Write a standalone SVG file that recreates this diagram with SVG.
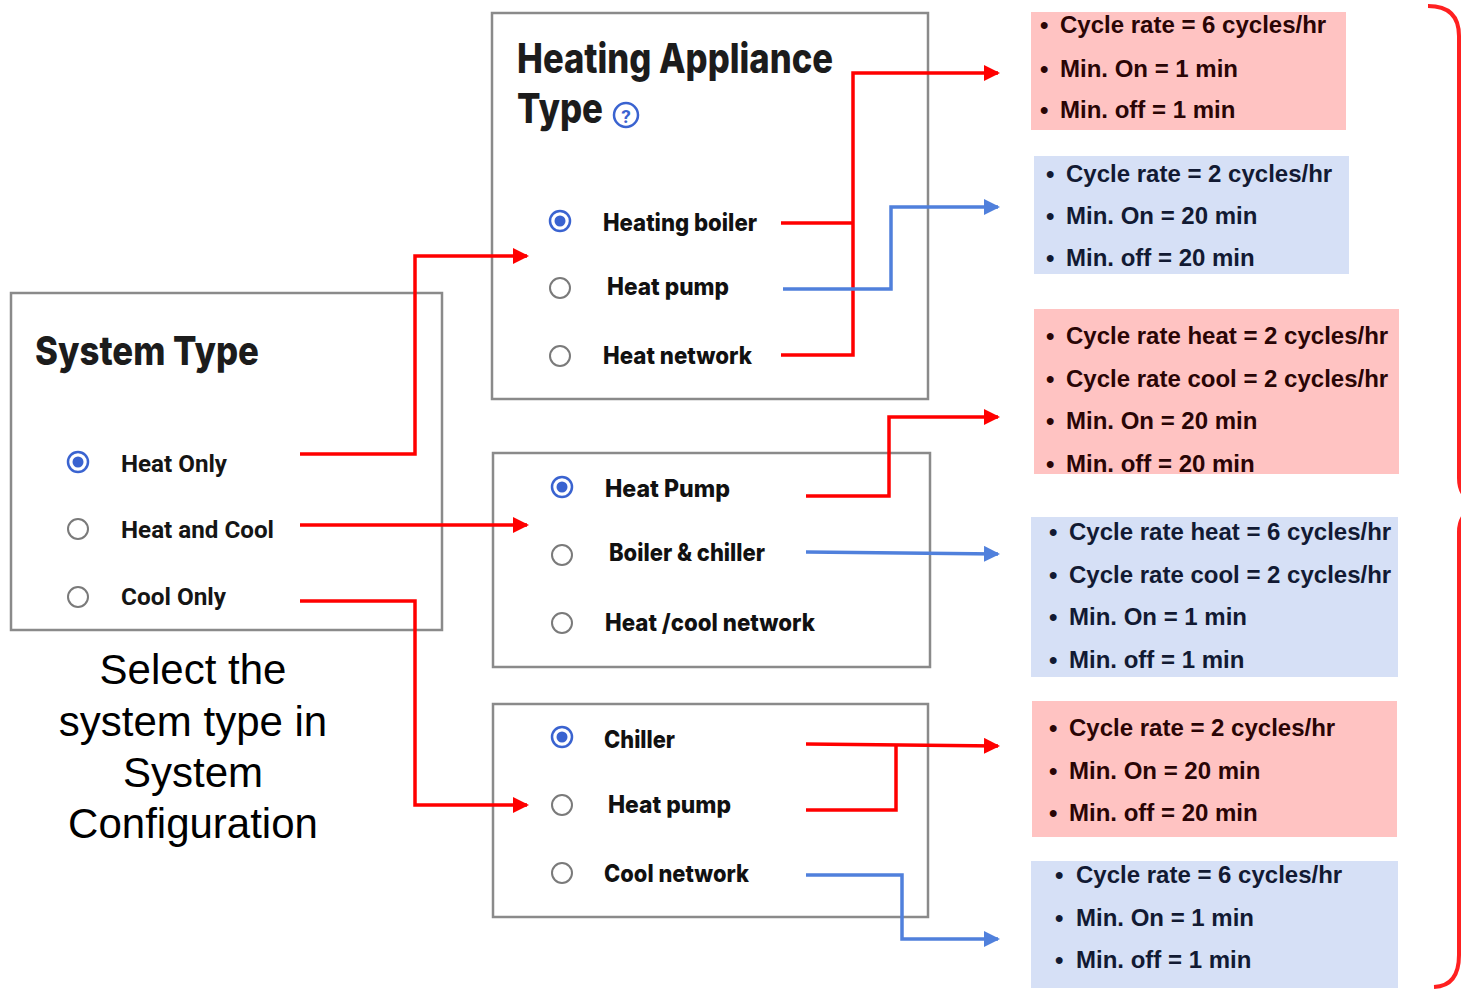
<svg xmlns="http://www.w3.org/2000/svg" width="1461" height="989" viewBox="0 0 1461 989">
<style>
.box{fill:#fff;stroke:#8a8a8a;stroke-width:2.5}
.h{font-family:Inter,Roboto,"Liberation Sans",sans-serif;font-weight:800;fill:#1c1c1c}
.lbl{font-family:Inter,Roboto,"Liberation Sans",sans-serif;font-weight:800;font-size:24px;fill:#111}
.slbl{font-family:Roboto,"Liberation Sans",sans-serif;font-weight:700;font-size:23px;fill:#151515}
.off{fill:#fff;stroke:#7a7a7a;stroke-width:2}
.on{fill:#fff;stroke:#3a63d0;stroke-width:2.5}
.dot{fill:#3a63d0}
.red{fill:none;stroke:#ff0000;stroke-width:3.5}
.blue{fill:none;stroke:#5080dc;stroke-width:3.5}
.pink{fill:#ffc3c2}
.lblue{fill:#d6e0f6}
.pt{font-family:"Liberation Sans",Arial,sans-serif;font-weight:700;font-size:24px;fill:#2a0505}
.bt{font-family:"Liberation Sans",Arial,sans-serif;font-weight:700;font-size:24px;fill:#121a33}
.b{font-size:24px}
.cap{font-family:"Liberation Sans",Arial,sans-serif;font-size:42px;fill:#000}
</style>
<defs>
<marker id="ar" markerUnits="userSpaceOnUse" markerWidth="18" markerHeight="16" refX="14" refY="8" orient="auto"><path d="M0,0 L16,8 L0,16 z" fill="#ff0000"/></marker>
<marker id="ab" markerUnits="userSpaceOnUse" markerWidth="18" markerHeight="16" refX="14" refY="8" orient="auto"><path d="M0,0 L16,8 L0,16 z" fill="#5080dc"/></marker>
</defs>
<rect width="1461" height="989" fill="#fff"/>

<g id="system-type">
<rect class="box" x="11" y="293" width="431" height="337"/>
<text class="h" x="35" y="365" font-size="40" textLength="224" lengthAdjust="spacingAndGlyphs">System Type</text>
<circle class="on" cx="78" cy="462" r="10"/><circle class="dot" cx="78" cy="462" r="5.5"/>
<text class="slbl" x="121" y="472" textLength="106" lengthAdjust="spacingAndGlyphs">Heat Only</text>
<circle class="off" cx="78" cy="529" r="10"/>
<text class="slbl" x="121" y="538" textLength="153" lengthAdjust="spacingAndGlyphs">Heat and Cool</text>
<circle class="off" cx="78" cy="597" r="10"/>
<text class="slbl" x="121" y="605" textLength="105" lengthAdjust="spacingAndGlyphs">Cool Only</text>
</g>

<g id="caption">
<text class="cap" text-anchor="middle" x="193" y="684">Select the</text>
<text class="cap" text-anchor="middle" x="193" y="736">system type in</text>
<text class="cap" text-anchor="middle" x="193" y="787">System</text>
<text class="cap" text-anchor="middle" x="193" y="838">Configuration</text>
</g>

<g id="heating-appliance">
<rect class="box" x="492" y="13" width="436" height="386"/>
<text class="h" x="517" y="73" font-size="41" textLength="316" lengthAdjust="spacingAndGlyphs">Heating Appliance</text>
<text class="h" x="517" y="123" font-size="41" textLength="86" lengthAdjust="spacingAndGlyphs">Type</text>
<circle cx="626" cy="115" r="12" fill="none" stroke="#3a63d0" stroke-width="2.5"/>
<text x="626" y="123" text-anchor="middle" font-family="Roboto,'Liberation Sans',sans-serif" font-size="19" font-weight="700" fill="#3a63d0">?</text>
<circle class="on" cx="560" cy="221" r="10"/><circle class="dot" cx="560" cy="221" r="5.5"/>
<text class="lbl" x="603" y="231" textLength="154" lengthAdjust="spacingAndGlyphs">Heating boiler</text>
<circle class="off" cx="560" cy="288" r="10"/>
<text class="lbl" x="607" y="295" textLength="122" lengthAdjust="spacingAndGlyphs">Heat pump</text>
<circle class="off" cx="560" cy="356" r="10"/>
<text class="lbl" x="603" y="364" textLength="149" lengthAdjust="spacingAndGlyphs">Heat network</text>
</g>

<g id="heat-and-cool">
<rect class="box" x="493" y="453" width="437" height="214"/>
<circle class="on" cx="562" cy="487" r="10"/><circle class="dot" cx="562" cy="487" r="5.5"/>
<text class="lbl" x="605" y="497" textLength="125" lengthAdjust="spacingAndGlyphs">Heat Pump</text>
<circle class="off" cx="562" cy="555" r="10"/>
<text class="lbl" x="609" y="561" textLength="156" lengthAdjust="spacingAndGlyphs">Boiler &amp; chiller</text>
<circle class="off" cx="562" cy="623" r="10"/>
<text class="lbl" x="605" y="631" textLength="210" lengthAdjust="spacingAndGlyphs">Heat /cool network</text>
</g>

<g id="cool-only">
<rect class="box" x="493" y="704" width="435" height="213"/>
<circle class="on" cx="562" cy="737" r="10"/><circle class="dot" cx="562" cy="737" r="5.5"/>
<text class="lbl" x="604" y="748" textLength="71" lengthAdjust="spacingAndGlyphs">Chiller</text>
<circle class="off" cx="562" cy="805" r="10"/>
<text class="lbl" x="608" y="813" textLength="123" lengthAdjust="spacingAndGlyphs">Heat pump</text>
<circle class="off" cx="562" cy="873" r="10"/>
<text class="lbl" x="604" y="882" textLength="145" lengthAdjust="spacingAndGlyphs">Cool network</text>
</g>

<g id="param-1">
<rect class="pink" x="1031" y="12" width="315" height="118"/>
<text class="pt"><tspan class="b" x="1040" y="33">•</tspan><tspan x="1060" y="33">Cycle rate = 6 cycles/hr</tspan></text>
<text class="pt"><tspan class="b" x="1040" y="77">•</tspan><tspan x="1060" y="77">Min. On = 1 min</tspan></text>
<text class="pt"><tspan class="b" x="1040" y="118">•</tspan><tspan x="1060" y="118">Min. off = 1 min</tspan></text>
</g>
<g id="param-2">
<rect class="lblue" x="1034" y="156" width="315" height="118"/>
<text class="bt"><tspan class="b" x="1046" y="182">•</tspan><tspan x="1066" y="182">Cycle rate = 2 cycles/hr</tspan></text>
<text class="bt"><tspan class="b" x="1046" y="224">•</tspan><tspan x="1066" y="224">Min. On = 20 min</tspan></text>
<text class="bt"><tspan class="b" x="1046" y="266">•</tspan><tspan x="1066" y="266">Min. off = 20 min</tspan></text>
</g>
<g id="param-3">
<rect class="pink" x="1034" y="309" width="365" height="165"/>
<text class="pt"><tspan class="b" x="1046" y="344">•</tspan><tspan x="1066" y="344">Cycle rate heat = 2 cycles/hr</tspan></text>
<text class="pt"><tspan class="b" x="1046" y="387">•</tspan><tspan x="1066" y="387">Cycle rate cool = 2 cycles/hr</tspan></text>
<text class="pt"><tspan class="b" x="1046" y="429">•</tspan><tspan x="1066" y="429">Min. On = 20 min</tspan></text>
<text class="pt"><tspan class="b" x="1046" y="472">•</tspan><tspan x="1066" y="472">Min. off = 20 min</tspan></text>
</g>
<g id="param-4">
<rect class="lblue" x="1031" y="517" width="367" height="160"/>
<text class="bt"><tspan class="b" x="1049" y="540">•</tspan><tspan x="1069" y="540">Cycle rate heat = 6 cycles/hr</tspan></text>
<text class="bt"><tspan class="b" x="1049" y="583">•</tspan><tspan x="1069" y="583">Cycle rate cool = 2 cycles/hr</tspan></text>
<text class="bt"><tspan class="b" x="1049" y="625">•</tspan><tspan x="1069" y="625">Min. On = 1 min</tspan></text>
<text class="bt"><tspan class="b" x="1049" y="668">•</tspan><tspan x="1069" y="668">Min. off = 1 min</tspan></text>
</g>
<g id="param-5">
<rect class="pink" x="1032" y="701" width="365" height="136"/>
<text class="pt"><tspan class="b" x="1049" y="736">•</tspan><tspan x="1069" y="736">Cycle rate = 2 cycles/hr</tspan></text>
<text class="pt"><tspan class="b" x="1049" y="779">•</tspan><tspan x="1069" y="779">Min. On = 20 min</tspan></text>
<text class="pt"><tspan class="b" x="1049" y="821">•</tspan><tspan x="1069" y="821">Min. off = 20 min</tspan></text>
</g>
<g id="param-6">
<rect class="lblue" x="1031" y="861" width="367" height="127"/>
<text class="bt"><tspan class="b" x="1055" y="883">•</tspan><tspan x="1076" y="883">Cycle rate = 6 cycles/hr</tspan></text>
<text class="bt"><tspan class="b" x="1055" y="926">•</tspan><tspan x="1076" y="926">Min. On = 1 min</tspan></text>
<text class="bt"><tspan class="b" x="1055" y="968">•</tspan><tspan x="1076" y="968">Min. off = 1 min</tspan></text>
</g>

<g id="connectors">
<polyline class="red" points="300,454 415,454 415,256 527,256" marker-end="url(#ar)"/>
<polyline class="red" points="300,525 527,525" marker-end="url(#ar)"/>
<polyline class="red" points="300,601 415,601 415,805 527,805" marker-end="url(#ar)"/>
<polyline class="red" points="781,223 853,223"/>
<polyline class="red" points="781,355 853,355 853,73 998,73" marker-end="url(#ar)"/>
<polyline class="blue" points="783,289 891,289 891,207 998,207" marker-end="url(#ab)"/>
<polyline class="red" points="806,496 889,496 889,417 998,417" marker-end="url(#ar)"/>
<polyline class="blue" points="806,552 998,554" marker-end="url(#ab)"/>
<polyline class="red" points="806,744 998,746" marker-end="url(#ar)"/>
<polyline class="red" points="806,810 896,810 896,744"/>
<polyline class="blue" points="806,875 902,875 902,939 998,939" marker-end="url(#ab)"/>
</g>

<g id="brace">
<path d="M1428,6 Q1459,6 1459,36 L1459,478 Q1459,494 1470,500" fill="none" stroke="#ff2020" stroke-width="4"/>
<path d="M1470,510 Q1459,517 1459,532 L1459,955 Q1459,986 1434,987" fill="none" stroke="#ff2020" stroke-width="4"/>
</g>
</svg>
